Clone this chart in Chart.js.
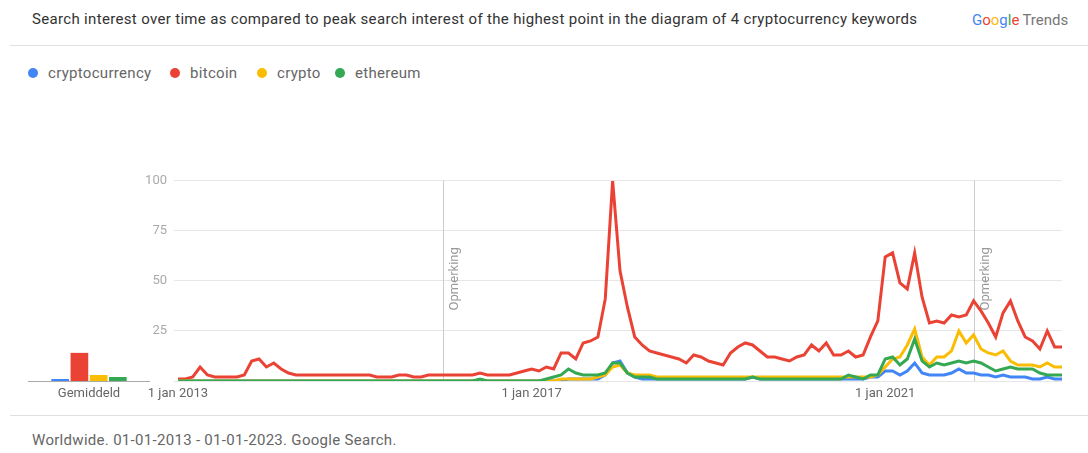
<!DOCTYPE html>
<html>
<head>
<meta charset="utf-8">
<script src="https://cdn.jsdelivr.net/npm/chart.js@4.4.0/dist/chart.umd.min.js"></script>
<style>
  body { margin: 0; width: 1088px; height: 453px; background: #fff; font-family: Roboto, sans-serif; position: relative; overflow: hidden; }
  #title { position: absolute; left: 32px; top: 10px; font-size: 15px; letter-spacing: 0.33px; color: #333; white-space: nowrap; }
  #brand { position: absolute; left: 972px; top: 11px; font-size: 15px; white-space: nowrap; }
  #brand .t { color: #777; margin-left: 3px; }
  .sep { position: absolute; left: 10px; width: 1078px; height: 1px; background: #e0e0e0; }
  .item { position: absolute; top: 64px; font-size: 15px; letter-spacing: 0.3px; color: #666; white-space: nowrap; }
  .dot { position: absolute; top: 4px; width: 10px; height: 10px; border-radius: 50%; }
  #footer { position: absolute; left: 32px; top: 431px; font-size: 15px; letter-spacing: 0.3px; color: #666; white-space: nowrap; }
  #avg { position: absolute; left: 28px; top: 170px; }
  #main { position: absolute; left: 130px; top: 166px; }
</style>
</head>
<body>
<div id="title">Search interest over time as compared to peak search interest of the highest point in the diagram of 4 cryptocurrency keywords</div>
<div id="brand"><span style="color:#4285f4">G</span><span style="color:#ea4335">o</span><span style="color:#fbbc04">o</span><span style="color:#4285f4">g</span><span style="color:#34a853">l</span><span style="color:#ea4335">e</span><span class="t">Trends</span></div>
<div class="sep" style="top:45px"></div>
<div id="legend"></div>
<canvas id="avg" width="122" height="235"></canvas>
<canvas id="main" width="945" height="239"></canvas>
<div class="sep" style="top:415px"></div>
<div id="footer">Worldwide. 01-01-2013 - 01-01-2023. Google Search.</div>
<script>
const keywords = ['cryptocurrency', 'bitcoin', 'crypto', 'ethereum'];
const colors = ['#4285f4', '#ea4335', '#fbbc04', '#34a853'];
const averages = [1, 14, 3, 2];
const tickLabels = ['1 jan 2013', '1 jan 2017', '1 jan 2021'];
const tickMonths = ['2013-01', '2017-01', '2021-01'];
const noteMonths = ['2016-01', '2022-01'];

// monthly, jan 2013 .. jan 2023
const months = [];
for (let y = 2013; y <= 2023; y++) {
  for (let m = 1; m <= 12; m++) {
    if (y === 2023 && m > 1) break;
    months.push(y + '-' + String(m).padStart(2, '0'));
  }
}

const cryptocurrency = [
  0,0,0,0,0,0,0,0,0,0, 0,0,0,0,0,0,0,0,0,0,
  0,0,0,0,0,0,0,0,0,0, 0,0,0,0,0,0,0,0,0,0,
  0,0,0,0,0,0,0,0,0,0, 0,0,0,1,1,1,1,1,3,9,
  10,4,2,1,1,1,1,1,1,1, 1,1,1,1,1,1,1,1,2,1,
  1,1,1,1,1,1,1,1,1,1, 1,1,1,1,2,2,5,5,3,5,
  9,4,3,3,3,4,6,4,4,3, 3,2,3,2,2,2,1,1,2,1,
  1
];
const bitcoin = [
  1,1,2,7,3,2,2,2,2,3, 10,11,7,9,6,4,3,3,3,3,
  3,3,3,3,3,3,3,2,2,2, 3,3,2,2,3,3,3,3,3,3,
  3,4,3,3,3,3,4,5,6,5, 7,6,14,14,11,19,20,22,41,100,
  55,37,22,18,15,14,13,12,11,9, 13,12,10,9,8,14,17,19,18,15,
  12,12,11,10,12,13,18,15,19,13, 13,15,12,13,22,30,62,64,49,46,
  64,42,29,30,29,33,32,33,40,35, 29,22,34,40,30,22,20,16,25,17,
  17
];
const crypto = [
  0,0,0,0,0,0,0,0,0,0, 0,0,0,0,0,0,0,0,0,0,
  0,0,0,0,0,0,0,0,0,0, 0,0,0,0,0,0,0,0,0,0,
  0,0,0,0,0,0,0,0,0,0, 0,0,1,1,1,1,1,2,3,7,
  8,4,3,3,3,2,2,2,2,2, 2,2,2,2,2,2,2,2,2,2,
  2,2,2,2,2,2,2,2,2,2, 2,2,2,2,2,3,7,11,12,18,
  26,12,8,12,12,15,25,19,23,16, 14,13,15,10,8,8,8,7,9,7,
  7
];
const ethereum = [
  0,0,0,0,0,0,0,0,0,0, 0,0,0,0,0,0,0,0,0,0,
  0,0,0,0,0,0,0,0,0,0, 0,0,0,0,0,0,0,0,0,0,
  0,1,0,0,0,0,0,0,0,0, 1,2,3,6,4,3,3,3,4,9,
  9,4,2,2,2,1,1,1,1,1, 1,1,1,1,1,1,1,1,2,1,
  1,1,1,1,1,1,1,1,1,1, 1,3,2,1,3,3,11,12,8,11,
  21,10,7,9,8,9,10,9,10,9, 7,5,6,7,6,6,6,4,3,3,
  3
];
const series = [cryptocurrency, bitcoin, crypto, ethereum];

// legend
const legendX = [28, 170, 257, 335];
const legend = document.getElementById('legend');
keywords.forEach((k, i) => {
  const el = document.createElement('div');
  el.className = 'item';
  el.style.left = legendX[i] + 'px';
  el.innerHTML = '<span class="dot" style="left:0;background:' + colors[i] + '"></span><span style="margin-left:20px">' + k + '</span>';
  legend.appendChild(el);
});

new Chart(document.getElementById('avg'), {
  type: 'bar',
  data: {
    labels: ['Gemiddeld'],
    datasets: keywords.map((k, i) => ({ label: k, data: [averages[i]], backgroundColor: colors[i] }))
  },
  options: {
    responsive: false,
    animation: false,
    layout: { padding: { top: 10 } },
    plugins: { legend: { display: false }, tooltip: { enabled: false } },
    datasets: { bar: { categoryPercentage: 0.63, barPercentage: 0.92 } },
    scales: {
      x: {
        grid: { display: false, drawTicks: false },
        border: { color: '#aaa' },
        ticks: { padding: 5, color: '#666', font: { family: 'Roboto', size: 13 } },
        afterFit(s) { s.height = 24; }
      },
      y: { display: false, min: 0, max: 100 }
    }
  }
});

const notes = {
  id: 'notes',
  beforeDatasetsDraw(chart) {
    const { ctx, chartArea, scales } = chart;
    noteMonths.forEach(m => {
      const px = Math.round(scales.x.getPixelForValue(months.indexOf(m))) + 0.5;
      ctx.save();
      ctx.strokeStyle = '#ccc';
      ctx.lineWidth = 1;
      ctx.beginPath();
      ctx.moveTo(px, chartArea.top);
      ctx.lineTo(px, chartArea.bottom);
      ctx.stroke();
      ctx.translate(px + 11, chartArea.top + 98);
      ctx.rotate(-Math.PI / 2);
      ctx.fillStyle = '#999';
      ctx.font = '13px Roboto';
      ctx.textAlign = 'center';
      ctx.textBaseline = 'middle';
      ctx.fillText('Opmerking', 0, 0);
      ctx.restore();
    });
  }
};

new Chart(document.getElementById('main'), {
  type: 'line',
  data: {
    labels: months,
    datasets: keywords.map((k, i) => ({
      label: k,
      data: series[i],
      borderColor: colors[i],
      backgroundColor: colors[i],
      borderWidth: 3,
      pointRadius: 0,
      tension: 0,
      order: 4 - i
    }))
  },
  options: {
    responsive: false,
    animation: false,
    layout: { padding: { top: 10, right: 13 } },
    plugins: { legend: { display: false }, tooltip: { enabled: false } },
    scales: {
      x: {
        grid: { display: false, drawTicks: false },
        border: { display: false },
        ticks: {
          autoSkip: false,
          maxRotation: 0,
          padding: 5,
          color: '#666',
          font: { family: 'Roboto', size: 13 },
          callback(v) {
            const j = tickMonths.indexOf(months[v]);
            return j >= 0 ? tickLabels[j] : '';
          }
        },
        afterFit(s) { s.height = 24; }
      },
      y: {
        min: 0,
        max: 100,
        grid: { color: '#e6e6e6', tickLength: 4 },
        border: { display: false },
        ticks: {
          stepSize: 25,
          padding: 7,
          color: '#aaa',
          font: { family: 'Roboto', size: 13 },
          callback: v => v === 0 ? '' : v
        },
        afterFit(s) { s.height; s.width = 48; }
      }
    }
  },
  plugins: [notes]
});
</script>
</body>
</html>
